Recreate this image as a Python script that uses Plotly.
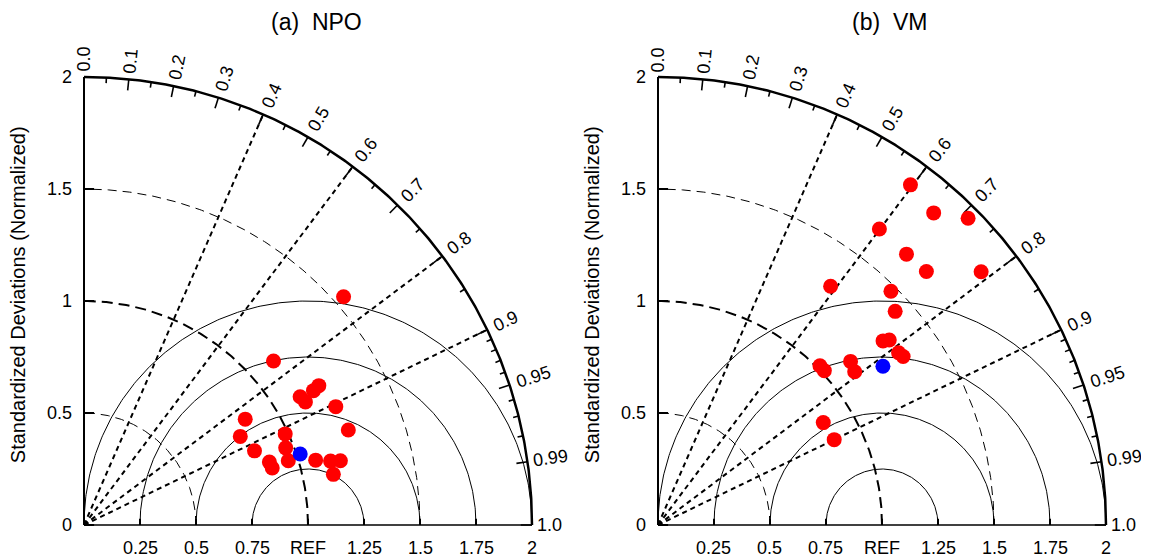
import numpy as np
import plotly.graph_objects as go

# ---------------- data ----------------
panel_titles = ["(a)\u00a0 NPO", "(b)\u00a0 VM"]

npo_model_std = [1.543, 1.119, 1.219, 1.187, 1.122, 1.131, 1.242, 0.861, 1.254, 0.802,
                 0.986, 0.964, 0.830, 0.956, 0.874, 0.878, 1.074, 1.137, 1.180, 1.136]
npo_model_corr = [0.751, 0.756, 0.860, 0.863, 0.860, 0.874, 0.905, 0.836, 0.941, 0.870,
                  0.911, 0.934, 0.917, 0.954, 0.947, 0.957, 0.963, 0.968, 0.970, 0.980]
npo_mme_std = [1.016]
npo_mme_corr = [0.950]

vm_model_std = [1.891, 1.859, 1.947, 1.650, 1.641, 1.648, 1.833,
                1.315, 1.473, 1.425, 1.298, 1.322, 1.321, 1.328,
                1.014, 1.013, 1.128, 1.113, 0.868, 0.874]
vm_model_corr = [0.596, 0.662, 0.711, 0.599, 0.676, 0.727, 0.787,
                 0.586, 0.706, 0.743, 0.774, 0.781, 0.813, 0.824,
                 0.713, 0.733, 0.762, 0.789, 0.850, 0.900]
vm_mme_std = [1.229]
vm_mme_corr = [0.817]

std_ticks = [0, 0.5, 1, 1.5, 2]
std_tick_labels = ["0", "0.5", "1", "1.5", "2"]
x_ticks = [0.25, 0.5, 0.75, 1.0, 1.25, 1.5, 1.75, 2.0]
x_tick_labels = ["0.25", "0.5", "0.75", "REF", "1.25", "1.5", "1.75", "2"]
corr_major = [0.0, 0.1, 0.2, 0.3, 0.4, 0.5, 0.6, 0.7, 0.8, 0.9, 0.95, 0.99, 1.0]
corr_major_labels = ["0.0", "0.1", "0.2", "0.3", "0.4", "0.5", "0.6", "0.7", "0.8",
                     "0.9", "0.95", "0.99", "1.0"]
corr_minor = [0.05, 0.15, 0.25, 0.35, 0.45, 0.55, 0.65, 0.75, 0.85,
              0.91, 0.92, 0.93, 0.94, 0.96, 0.97, 0.98]
corr_rays = [0.4, 0.6, 0.8, 0.9]
std_arcs_thin = [0.5, 1.5]
std_arc_ref = [1.0]
rms_radii = [0.25, 0.5, 0.75, 1.0]
y_title = "Standardized Deviations (Normalized)"

panels = [
    dict(std=npo_model_std, corr=npo_model_corr, mstd=npo_mme_std, mcorr=npo_mme_corr),
    dict(std=vm_model_std, corr=vm_model_corr, mstd=vm_mme_std, mcorr=vm_mme_corr),
]

# ---------------- layout geometry ----------------
OFF = 8  # page body margin of the html output
PX = 224.0
W, H = 1149, 560
XR = [-0.33, 2.15]
YR = [-0.15, 2.2]
origin_x_px = [84 - OFF, 658 - OFF]
origin_y_px = 525 - OFF
title_x_px = [316 - OFF, 890 - OFF]
title_y_px = 22 - OFF
FONT = "Liberation Sans, Arial, Helvetica, sans-serif"

ydom = [(H - (origin_y_px - YR[0] * PX)) / H, (H - (origin_y_px - YR[1] * PX)) / H]


def pol(r, c):
    th = np.arccos(np.clip(c, -1, 1))
    return r * np.cos(th), r * np.sin(th)


fig = go.Figure()
annotations = []


def add_line(xs, ys, width, dash, xa, ya):
    fig.add_trace(go.Scatter(x=xs, y=ys, mode="lines",
                             line=dict(color="black", width=width, dash=dash),
                             hoverinfo="skip", showlegend=False, xaxis=xa, yaxis=ya))


t_quarter = np.linspace(0, np.pi / 2, 300)
t_half = np.linspace(0, np.pi, 300)

for i, p in enumerate(panels):
    xa = "x" if i == 0 else "x2"
    ya = "y" if i == 0 else "y2"

    # RMS circles centred at REF
    for R in rms_radii:
        add_line(1 + R * np.cos(t_half), R * np.sin(t_half), 1, "solid", xa, ya)

    # std dev arcs
    for r in std_arcs_thin:
        add_line(r * np.cos(t_quarter), r * np.sin(t_quarter), 1, "9px,6px", xa, ya)
    for r in std_arc_ref:
        add_line(r * np.cos(t_quarter), r * np.sin(t_quarter), 2, "11px,6px", xa, ya)

    # correlation rays
    rx, ry = [], []
    for c in corr_rays:
        ex, ey = pol(2.0, c)
        rx += [0, ex, None]
        ry += [0, ey, None]
    add_line(rx, ry, 2, "5px,4px", xa, ya)

    # outer arc and axes
    add_line(2 * np.cos(t_quarter), 2 * np.sin(t_quarter), 2.5, "solid", xa, ya)
    add_line([0, 0], [0, 2], 2, "solid", xa, ya)
    add_line([0, 2], [0, 0], 1.6, "solid", xa, ya)

    # ticks on axes
    tx, ty = [], []
    for s in std_ticks:
        tx += [0, 0.045, None]
        ty += [s, s, None]
    for v in x_ticks:
        tx += [v, v, None]
        ty += [0, 0.028, None]
    add_line(tx, ty, 2, "solid", xa, ya)

    # correlation ticks
    cx, cy = [], []
    for c in corr_major:
        x0, y0 = pol(2.0, c)
        x1, y1 = pol(1.95, c)
        cx += [x0, x1, None]
        cy += [y0, y1, None]
    for c in corr_minor:
        x0, y0 = pol(2.0, c)
        x1, y1 = pol(1.975, c)
        cx += [x0, x1, None]
        cy += [y0, y1, None]
    add_line(cx, cy, 1.6, "solid", xa, ya)

    # markers
    mx, my = pol(np.array(p["std"]), np.array(p["corr"]))
    fig.add_trace(go.Scatter(x=mx, y=my, mode="markers",
                             marker=dict(color="#ff0000", size=15, line=dict(width=0)),
                             hoverinfo="skip", showlegend=False, cliponaxis=False,
                             xaxis=xa, yaxis=ya))
    bx, by = pol(np.array(p["mstd"]), np.array(p["mcorr"]))
    fig.add_trace(go.Scatter(x=bx, y=by, mode="markers",
                             marker=dict(color="#0000ff", size=15, line=dict(width=0)),
                             hoverinfo="skip", showlegend=False, cliponaxis=False,
                             xaxis=xa, yaxis=ya))

    # tick labels
    for s, lab in zip(std_ticks, std_tick_labels):
        annotations.append(dict(x=-0.045, y=s, xref=xa, yref=ya, text=lab,
                                showarrow=False, xanchor="right", yanchor="middle",
                                font=dict(size=18, family=FONT, color="black")))
    for v, lab in zip(x_ticks, x_tick_labels):
        annotations.append(dict(x=v, y=-0.103, xref=xa, yref=ya, text=lab,
                                showarrow=False, xanchor="center", yanchor="middle",
                                font=dict(size=18, family=FONT, color="black")))
    fs = 18
    for c, lab in zip(corr_major, corr_major_labels):
        ndig = sum(ch.isdigit() for ch in lab)
        w = fs * (0.556 * ndig + 0.278)
        th = np.arccos(c)
        gap = 5 + 4 * np.sin(2 * th)
        rc = 2.0 + (gap + w / 2) / PX
        lx, ly = pol(rc, c)
        annotations.append(dict(x=lx, y=ly, xref=xa, yref=ya, text=lab,
                                showarrow=False, xanchor="center", yanchor="middle",
                                textangle=-np.degrees(th),
                                font=dict(size=fs, family=FONT, color="black")))
    # y title
    annotations.append(dict(x=-0.295, y=1.03, xref=xa, yref=ya, text=y_title,
                            showarrow=False, xanchor="center", yanchor="middle",
                            textangle=-90,
                            font=dict(size=20, family=FONT, color="black")))
    # panel title
    annotations.append(dict(x=title_x_px[i] / W, y=(H - title_y_px) / H,
                            xref="paper", yref="paper",
                            text=panel_titles[i], showarrow=False,
                            xanchor="center", yanchor="middle",
                            font=dict(size=23, family=FONT, color="black")))

axis_common = dict(visible=False, showgrid=False, zeroline=False, fixedrange=True)
layout = dict(
    width=W, height=H,
    margin=dict(l=0, r=0, t=0, b=0),
    paper_bgcolor="white", plot_bgcolor="white",
    showlegend=False,
    annotations=annotations,
)
for i, ox in enumerate(origin_x_px):
    xd = [(ox + XR[0] * PX) / W, (ox + XR[1] * PX) / W]
    xname = "xaxis" if i == 0 else "xaxis2"
    yname = "yaxis" if i == 0 else "yaxis2"
    layout[xname] = dict(range=XR, domain=xd, anchor="y" if i == 0 else "y2", **axis_common)
    layout[yname] = dict(range=YR, domain=ydom, anchor="x" if i == 0 else "x2", **axis_common)

fig.update_layout(**layout)
fig.write_html("out.html")
